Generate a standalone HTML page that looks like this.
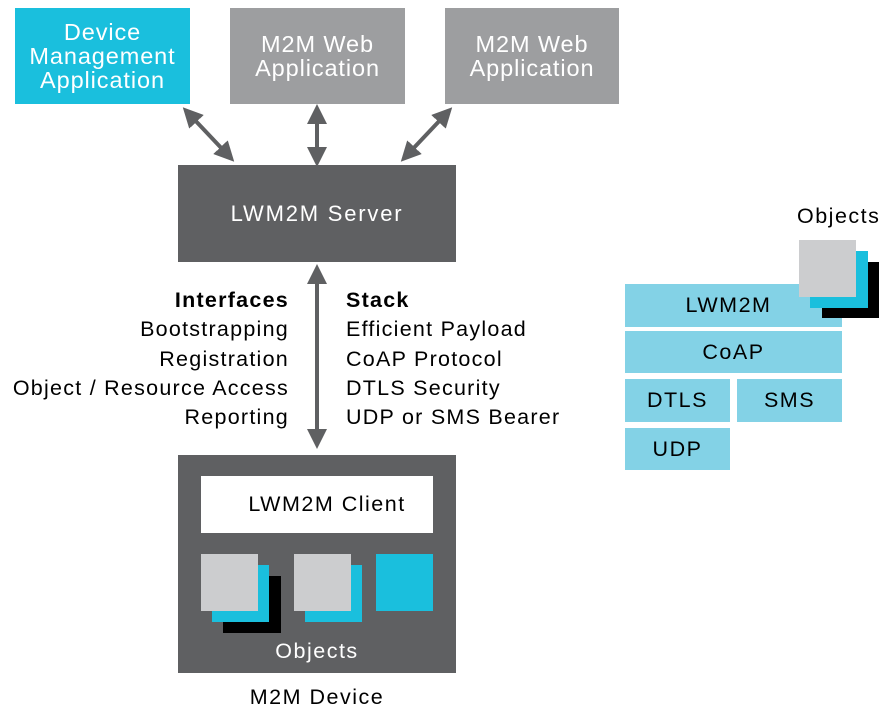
<!DOCTYPE html>
<html><head><meta charset="utf-8"><style>
body{margin:0;width:886px;height:716px;background:#fff;position:relative;overflow:hidden;font-family:"Liberation Sans",sans-serif;letter-spacing:1.5px}
div{position:absolute;box-sizing:border-box;white-space:nowrap}
.c{display:flex;align-items:center;justify-content:center;text-align:center}
.t{font-size:21.5px;line-height:29.3px;letter-spacing:1.25px}
.b{font-size:23.5px;line-height:24px;letter-spacing:0.9px;color:#fff}
</style></head><body>
<div class="c b" style="left:15px;top:8px;width:175px;height:96px;background:#1ABFDD">Device<br>Management<br>Application</div>
<div class="c b" style="left:230px;top:8px;width:175px;height:96px;background:#9D9EA0">M2M Web<br>Application</div>
<div class="c b" style="left:445px;top:8px;width:174px;height:96px;background:#9D9EA0">M2M Web<br>Application</div>
<div class="c" style="left:178px;top:165px;width:278px;height:97px;background:#5F6062;color:#fff;font-size:22px;letter-spacing:1.8px">LWM2M Server</div>
<svg style="position:absolute;left:0;top:0" width="886" height="716">
<defs><marker id="a" markerWidth="5" markerHeight="5" refX="2" refY="2.5" orient="auto-start-reverse" markerUnits="strokeWidth"><path d="M0,0L5,2.5L0,5z" fill="#5F6062"/></marker></defs>
<g stroke="#5F6062" stroke-width="4" marker-start="url(#a)" marker-end="url(#a)">
<line x1="191" y1="116" x2="226" y2="153"/>
<line x1="317" y1="116" x2="317" y2="155"/>
<line x1="444" y1="116" x2="409" y2="153"/>
<line x1="317" y1="276" x2="317" y2="437"/>
</g></svg>
<div class="t" style="left:0;width:289px;top:286px;text-align:right"><b>Interfaces</b><br>Bootstrapping<br>Registration<br>Object / Resource Access<br>Reporting</div>
<div class="t" style="left:346px;top:286px"><b>Stack</b><br>Efficient Payload<br>CoAP Protocol<br>DTLS Security<br>UDP or SMS Bearer</div>
<div style="left:178px;top:455px;width:278px;height:218px;background:#5F6062"></div>
<div class="c" style="left:201px;top:476px;width:232px;height:57px;background:#fff;font-size:21.5px;padding-left:20px">LWM2M Client</div>
<div style="left:223px;top:576px;width:58px;height:57px;background:#000"></div>
<div style="left:212px;top:565px;width:57px;height:57px;background:#1ABFDD"></div>
<div style="left:201px;top:554px;width:57px;height:57px;background:#CCCDCF"></div>
<div style="left:305px;top:565px;width:57px;height:57px;background:#1ABFDD"></div>
<div style="left:294px;top:554px;width:57px;height:57px;background:#CCCDCF"></div>
<div style="left:376px;top:554px;width:57px;height:57px;background:#1ABFDD"></div>
<div class="c" style="left:178px;top:637px;width:278px;height:28px;color:#fff;font-size:21.5px">Objects</div>
<div class="c" style="left:178px;top:683px;width:278px;height:28px;font-size:21.5px">M2M Device</div>
<div class="c" style="left:625px;top:284px;width:217px;height:43px;background:#83D2E6;font-size:21.5px;padding-right:10px">LWM2M</div>
<div class="c" style="left:625px;top:331px;width:217px;height:42px;background:#83D2E6;font-size:21.5px">CoAP</div>
<div class="c" style="left:625px;top:379px;width:105px;height:43px;background:#83D2E6;font-size:21.5px">DTLS</div>
<div class="c" style="left:737px;top:379px;width:105px;height:43px;background:#83D2E6;font-size:21.5px">SMS</div>
<div class="c" style="left:625px;top:428px;width:105px;height:42px;background:#83D2E6;font-size:21.5px">UDP</div>
<div style="left:822px;top:262px;width:57px;height:56px;background:#000"></div>
<div style="left:810px;top:251px;width:58px;height:57px;background:#1ABFDD"></div>
<div style="left:799px;top:240px;width:57px;height:57px;background:#CCCDCF"></div>
<div style="left:797px;top:204px;font-size:21.5px">Objects</div>
</body></html>
